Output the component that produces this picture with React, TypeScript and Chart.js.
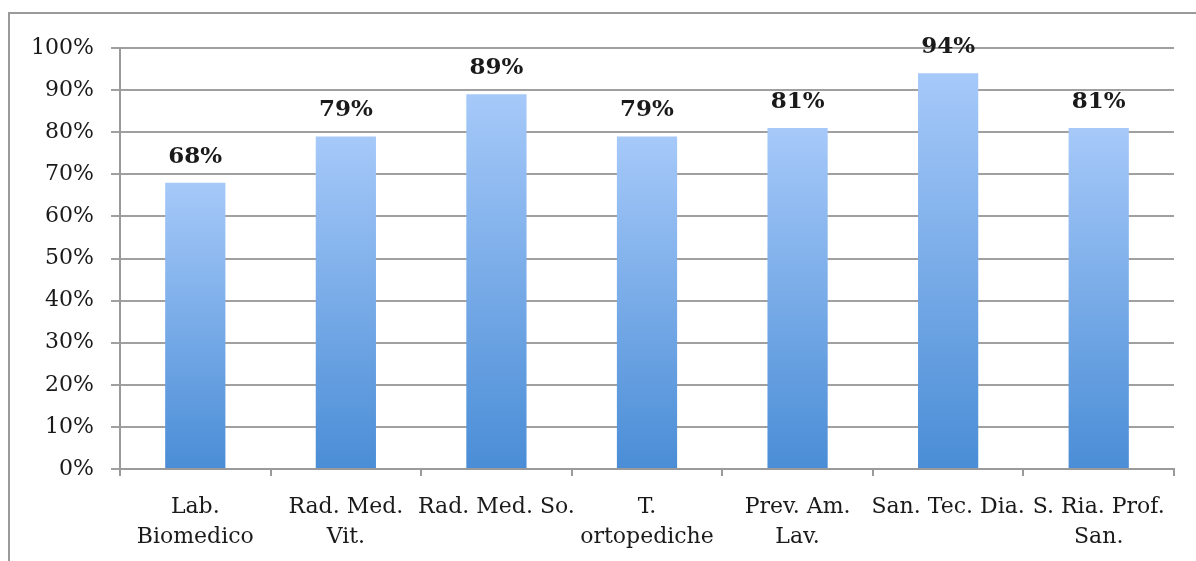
import React, { useEffect, useRef } from "react";
import { Chart, registerables } from "chart.js";

Chart.register(...registerables);

const categories: (string | string[])[] = [
  ["Lab.", "Biomedico"],
  ["Rad. Med.", "Vit."],
  "Rad. Med. So.",
  ["T.", "ortopediche"],
  ["Prev. Am.", "Lav."],
  "San. Tec. Dia.",
  ["S. Ria. Prof.", "San."],
];
const values: number[] = [68, 79, 89, 79, 81, 94, 81];
const yTicks: number[] = [0, 10, 20, 30, 40, 50, 60, 70, 80, 90, 100];

const FONT = "'DejaVu Serif', serif";

const framePlugin = {
  id: "frame",
  beforeDraw(chart: any) {
    const ctx = chart.ctx;
    ctx.save();
    ctx.strokeStyle = "#9a9a9a";
    ctx.lineWidth = 2;
    ctx.beginPath();
    ctx.moveTo(9, chart.height);
    ctx.lineTo(9, 13);
    ctx.lineTo(chart.width, 13);
    ctx.stroke();
    ctx.restore();
  },
};

const labelPlugin = {
  id: "valueLabels",
  afterDatasetsDraw(chart: any) {
    const ctx = chart.ctx;
    const meta = chart.getDatasetMeta(0);
    ctx.save();
    ctx.font = `bold 23px ${FONT}`;
    ctx.fillStyle = "#1a1a1a";
    ctx.textAlign = "center";
    ctx.textBaseline = "middle";
    meta.data.forEach((bar: any, i: number) => {
      ctx.fillText(values[i] + "%", bar.x, bar.y - 26);
    });
    ctx.restore();
  },
};

export default function App() {
  const ref = useRef<HTMLCanvasElement>(null);
  useEffect(() => {
    document.body.style.margin = "0";
    const chart = new Chart(ref.current!, {
      type: "bar",
      data: {
        labels: categories,
        datasets: [
          {
            data: values,
            backgroundColor: (c: any) => {
              const chart = c.chart;
              const area = chart.chartArea;
              if (!area || c.dataIndex === undefined) return "#7aaae8";
              const y = chart.scales.y;
              const top = y.getPixelForValue(values[c.dataIndex]);
              const bottom = y.getPixelForValue(0);
              const g = chart.ctx.createLinearGradient(0, top, 0, bottom);
              g.addColorStop(0, "#a6c9f9");
              g.addColorStop(1, "#4a8dd6");
              return g;
            },
            borderWidth: 0,
            barPercentage: 0.4,
            categoryPercentage: 1,
          },
        ],
      },
      options: {
        responsive: false,
        animation: false,
        layout: { padding: { top: 48, right: 22, left: 0, bottom: 0 } },
        plugins: { legend: { display: false }, tooltip: { enabled: false } },
        scales: {
          x: {
            offset: true,
            grid: {
              offset: true,
              drawOnChartArea: false,
              drawTicks: true,
              tickLength: 7,
              color: "#9a9a9a",
              lineWidth: 2,
            },
            border: { color: "#9a9a9a", width: 2 },
            ticks: {
              font: { family: FONT, size: 22, lineHeight: 1.36 },
              color: "#1a1a1a",
              padding: 16,
              maxRotation: 0,
              autoSkip: false,
            },
            afterFit: (s: any) => {
              s.height = 92;
            },
          },
          y: {
            min: 0,
            max: 100,
            afterBuildTicks: (s: any) => {
              s.ticks = yTicks.map((v) => ({ value: v }));
            },
            grid: {
              color: "#a0a0a0",
              lineWidth: 2,
              tickLength: 9,
            },
            border: { color: "#9a9a9a", width: 2 },
            ticks: {
              font: { family: FONT, size: 22 },
              color: "#1a1a1a",
              padding: 17,
              callback: (v: any) => v + "%",
            },
            afterFit: (s: any) => {
              s.width = 120;
            },
          },
        },
      },
      plugins: [framePlugin, labelPlugin],
    });
    return () => chart.destroy();
  }, []);
  return (
    <div style={{ width: 1196, height: 561 }}>
      <canvas ref={ref} width={1196} height={561} style={{ display: "block" }} />
    </div>
  );
}
